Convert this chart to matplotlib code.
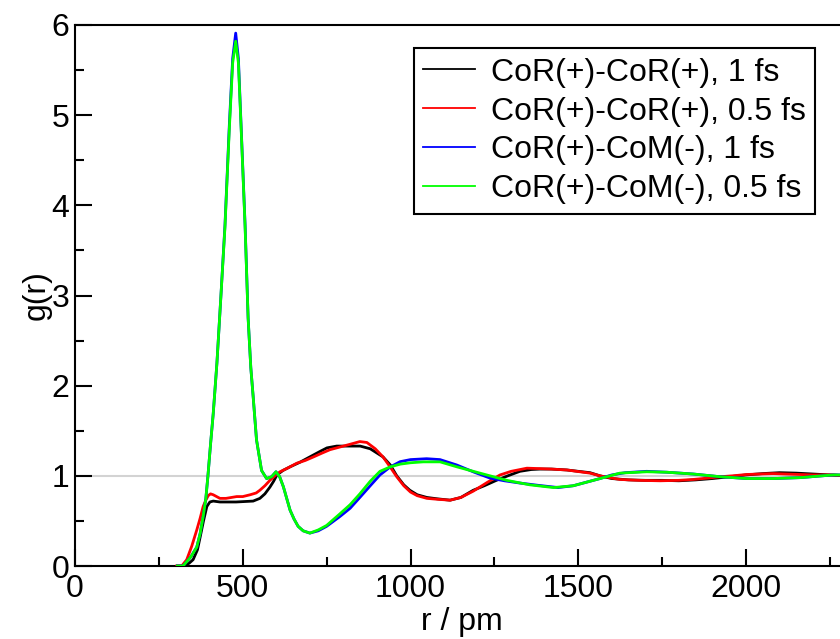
import matplotlib
matplotlib.use("Agg")
from matplotlib import pyplot as plt
from matplotlib.ticker import MultipleLocator

plt.rcParams['font.family'] = ['Liberation Sans', 'DejaVu Sans']

# CoR(+)-CoR(+), 1 fs
r_black = [305, 322, 340, 352, 365, 373, 383, 393, 402, 412, 432, 480, 531, 551, 566,
           581, 592, 602, 620, 641, 670, 700, 730, 751, 780, 820, 850, 880, 918, 940, 959,
           980, 998, 1020, 1049, 1080, 1118, 1150, 1187, 1220, 1256, 1290, 1326, 1360, 1386,
           1420, 1466, 1500, 1535, 1565, 1600, 1650, 1700, 1750, 1800, 1850, 1900, 1950, 2000,
           2050, 2100, 2150, 2200, 2250, 2300, 2400]
g_black = [0, 0.0, 0.03, 0.07, 0.18, 0.32, 0.50, 0.66, 0.71, 0.72, 0.71, 0.71, 0.72, 0.75, 0.80,
           0.875, 0.94, 1.01, 1.06, 1.10, 1.15, 1.21, 1.27, 1.31, 1.33, 1.33, 1.33, 1.30, 1.21, 1.12, 1.00,
           0.90, 0.84, 0.79, 0.76, 0.745, 0.73, 0.76, 0.84, 0.89, 0.95, 1.00, 1.05, 1.07, 1.075,
           1.075, 1.065, 1.05, 1.035, 1.0, 0.97, 0.955, 0.95, 0.95, 0.945, 0.955, 0.97, 0.99, 1.01,
           1.025, 1.035, 1.03, 1.02, 1.01, 1.0, 1.0]

# CoR(+)-CoR(+), 0.5 fs
r_red = [303, 318, 333, 348, 363, 373, 382, 390, 397, 404, 412, 422, 432, 450, 482, 500, 522,
         540, 551, 566, 581, 596, 611, 636, 661, 686, 711, 735, 760, 790, 820, 849, 870, 895, 918,
         939, 959, 980, 1000, 1020, 1049, 1080, 1118, 1150, 1187, 1230, 1267, 1300, 1347, 1386,
         1420, 1466, 1505, 1535, 1565, 1600, 1624, 1680, 1744, 1800, 1843, 1900, 1923, 1960, 2002,
         2040, 2081, 2120, 2161, 2200, 2260, 2300, 2400]
g_red = [0, 0.0, 0.07, 0.22, 0.40, 0.53, 0.66, 0.73, 0.78, 0.80, 0.79, 0.77, 0.75, 0.75, 0.77, 0.77, 0.79,
         0.81, 0.84, 0.89, 0.95, 1.0, 1.045, 1.09, 1.14, 1.17, 1.21, 1.25, 1.29, 1.32, 1.35, 1.38, 1.37, 1.30, 1.21,
         1.10, 0.99, 0.89, 0.82, 0.78, 0.75, 0.74, 0.73, 0.76, 0.83, 0.93, 1.01, 1.05, 1.085, 1.08,
         1.075, 1.065, 1.045, 1.03, 1.0, 0.975, 0.96, 0.95, 0.945, 0.95, 0.96, 0.98, 0.99, 1.0, 1.015,
         1.02, 1.025, 1.02, 1.015, 1.01, 1.01, 1.0, 1.0]

# CoR(+)-CoM(-), 1 fs
r_blue = [305, 322, 345, 363, 373, 382, 390, 396, 404, 412, 423, 435, 447, 460, 470, 479, 487,
          495, 507, 516, 524, 531, 541, 556, 571, 586, 599, 610, 621, 631, 641, 653, 665, 680, 700,
          725, 750, 790, 820, 849, 880, 909, 940, 969, 1000, 1048, 1088, 1138, 1190, 1237, 1280,
          1326, 1380, 1440, 1485, 1535, 1565, 1600, 1640, 1704, 1764, 1843, 1923, 2002, 2081, 2161,
          2260, 2300, 2400]
g_blue = [0, 0.0, 0.10, 0.21, 0.36, 0.55, 0.75, 0.99, 1.35, 1.69, 2.25, 3.0, 3.78, 4.89, 5.63, 5.91, 5.63,
          4.89, 3.78, 2.75, 2.2, 1.88, 1.40, 1.06, 0.97, 0.99, 1.045, 0.99, 0.88, 0.75, 0.62, 0.52, 0.44, 0.39, 0.365,
          0.39, 0.44, 0.55, 0.64, 0.76, 0.89, 1.01, 1.10, 1.157, 1.18, 1.19, 1.18, 1.12, 1.04, 0.975, 0.945,
          0.92, 0.895, 0.87, 0.89, 0.94, 0.97, 1.01, 1.035, 1.05, 1.04, 1.02, 0.99, 0.97, 0.97, 0.98,
          1.01, 1.01, 1.0]

# CoR(+)-CoM(-), 0.5 fs
r_green = [305, 322, 345, 363, 373, 382, 390, 396, 404, 412, 423, 435, 447, 460, 470, 479, 487,
           495, 507, 516, 524, 531, 541, 556, 571, 586, 599, 610, 621, 631, 641, 653, 665, 680, 700,
           725, 750, 790, 820, 849, 880, 909, 940, 970, 1000, 1038, 1088, 1138, 1207, 1287, 1356, 1426,
           1485, 1535, 1565, 1624, 1704, 1764, 1843, 1923, 2002, 2081, 2161, 2260, 2300, 2400]
g_green = [0, 0.0, 0.10, 0.21, 0.36, 0.55, 0.75, 0.99, 1.35, 1.69, 2.25, 3.0, 3.76, 4.85, 5.58, 5.82, 5.58,
           4.87, 3.76, 2.75, 2.2, 1.88, 1.40, 1.06, 0.97, 0.99, 1.045, 0.99, 0.88, 0.75, 0.62, 0.52, 0.44, 0.39, 0.365,
           0.40, 0.45, 0.58, 0.68, 0.80, 0.94, 1.05, 1.10, 1.13, 1.145, 1.155, 1.155, 1.10, 1.03, 0.95, 0.90, 0.87,
           0.89, 0.94, 0.97, 1.03, 1.045, 1.04, 1.02, 0.99, 0.97, 0.97, 0.98, 1.01, 1.01, 1.0]

labels = ["CoR(+)-CoR(+), 1 fs", "CoR(+)-CoR(+), 0.5 fs",
          "CoR(+)-CoM(-), 1 fs", "CoR(+)-CoM(-), 0.5 fs"]

fig = plt.figure(figsize=(8.4, 6.39), dpi=100)
# the original axes run a little past the right edge of the picture
ax = fig.add_axes([75 / 840, 73 / 639, 774 / 840, 541 / 639])

ax.axhline(1.0, color='#d3d3d3', lw=1.5, zorder=1)
ax.plot(r_black, g_black, color='black', lw=2.0, label=labels[0], zorder=3)
ax.plot(r_red, g_red, color='red', lw=2.0, label=labels[1], zorder=4)
ax.plot(r_blue, g_blue, color='blue', lw=2.0, label=labels[2], zorder=5)
ax.plot(r_green, g_green, color='#00ff00', lw=2.0, label=labels[3], zorder=6)

ax.set_xlim(0, 2307)
ax.set_ylim(0, 6)
ax.xaxis.set_major_locator(MultipleLocator(500))
ax.xaxis.set_minor_locator(MultipleLocator(250))
ax.yaxis.set_major_locator(MultipleLocator(1))
ax.yaxis.set_minor_locator(MultipleLocator(0.5))
ax.tick_params(which='both', direction='in', width=1.5, labelsize=23)
ax.tick_params(which='major', length=12)
ax.tick_params(which='minor', length=6.5)
ax.tick_params(axis='x', pad=6)
ax.tick_params(axis='y', pad=4)
for s in ax.spines.values():
    s.set_linewidth(1.5)

ax.set_xlabel("r / pm", fontsize=23, labelpad=2)
ax.set_ylabel("g(r)", fontsize=23, labelpad=0)

leg = ax.legend(loc='upper right', bbox_to_anchor=(815 / 840, 1 - 48 / 639),
                bbox_transform=fig.transFigure, borderaxespad=0, fontsize=23,
                fancybox=False, edgecolor='black', framealpha=1,
                handlelength=1.6, handletextpad=0.5, labelspacing=0.28, borderpad=0.3)
leg.get_frame().set_linewidth(1.5)
for h in leg.get_lines():
    h.set_linewidth(1.3)

fig.savefig("out.png", dpi=100)
